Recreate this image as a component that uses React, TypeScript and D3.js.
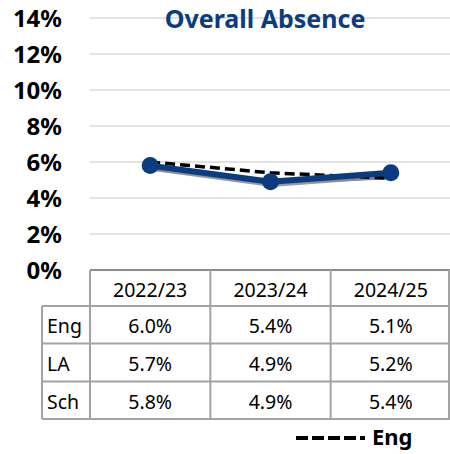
import * as d3 from "d3";
import { useEffect, useRef } from "react";

// chart values
const years = ["2022/23", "2023/24", "2024/25"];
const engValues = [6.0, 5.4, 5.1];
const laValues = [5.7, 4.9, 5.2];
const schValues = [5.8, 4.9, 5.4];
const rowLabels = ["Eng", "LA", "Sch"];
const yTicks = [0, 2, 4, 6, 8, 10, 12, 14];

const blue = "#0b3b80";
const gray = "#8a8a8a";
const border = "#a3a3a3";
const font = "'Noto Sans', 'Open Sans', sans-serif";

export default function App() {
    const svgRef = useRef<SVGSVGElement>(null);

    const width = 450,
        height = 454,
        plotLeft = 90,
        plotRight = 451,
        plotTop = 18,
        plotBottom = 270,
        rowH = [36, 37.5, 38, 37.5];

    useEffect(() => {
        const svg = d3.select(svgRef.current);
        svg.selectAll("*").remove();

        const x = d3.scaleBand().domain(years).range([plotLeft, plotRight]);
        const y = d3.scaleLinear().domain([0, 14]).range([plotBottom, plotTop]);
        const cx = (d: string) => (x(d) as number) + x.bandwidth() / 2;

        // gridlines
        svg.append("g")
            .selectAll("line")
            .data(yTicks.filter(t => t > 0))
            .enter().append("line")
            .attr("x1", plotLeft)
            .attr("x2", width)
            .attr("y1", d => y(d))
            .attr("y2", d => y(d))
            .attr("stroke", "#d9d9d9")
            .attr("stroke-width", 1.5);

        // y labels
        svg.append("g")
            .selectAll("text")
            .data(yTicks)
            .enter().append("text")
            .attr("x", 62)
            .attr("y", d => y(d) + 8.5)
            .attr("text-anchor", "end")
            .style("font-family", font)
            .style("font-size", "24px")
            .style("font-weight", "bold")
            .attr("fill", "#000")
            .text(d => `${d}%`);

        // title
        svg.append("text")
            .attr("x", 265)
            .attr("y", 27.5)
            .attr("text-anchor", "middle")
            .style("font-family", font)
            .style("font-size", "25px")
            .style("font-weight", "bold")
            .attr("fill", blue)
            .text("Overall Absence");

        const line = d3.line<number>()
            .x((d, i) => cx(years[i]))
            .y(d => y(d));

        // shadow under the blue line
        svg.append("path")
            .attr("d", line(schValues))
            .attr("transform", "translate(1.5,2.5)")
            .attr("fill", "none")
            .attr("stroke", gray)
            .attr("stroke-width", 5.5)
            .attr("opacity", 0.85);

        // LA
        svg.append("path")
            .attr("d", line(laValues))
            .attr("fill", "none")
            .attr("stroke", gray)
            .attr("stroke-width", 5.5);

        // Eng dashed
        svg.append("path")
            .attr("d", line(engValues))
            .attr("fill", "none")
            .attr("stroke", "#000")
            .attr("stroke-width", 3.5)
            .attr("stroke-dasharray", "10,5");

        // Sch
        svg.append("path")
            .attr("d", line(schValues))
            .attr("fill", "none")
            .attr("stroke", blue)
            .attr("stroke-width", 6)
            .attr("stroke-linejoin", "round");

        svg.append("g")
            .selectAll("circle")
            .data(schValues)
            .enter().append("circle")
            .attr("cx", (d, i) => cx(years[i]))
            .attr("cy", d => y(d))
            .attr("r", 8.5)
            .attr("fill", blue);

        // data table
        const rowTops = [plotBottom];
        rowH.forEach((h, i) => rowTops.push(rowTops[i] + h));
        const labelLeft = 42;
        const table = svg.append("g");
        const tableRows = [engValues, laValues, schValues];

        // horizontal borders
        rowTops.forEach((t, i) => {
            table.append("line")
                .attr("x1", i === 0 ? plotLeft : labelLeft)
                .attr("x2", width)
                .attr("y1", t)
                .attr("y2", t)
                .attr("stroke", i === 0 ? "#8c8c8c" : border)
                .attr("stroke-width", 2);
        });
        // vertical borders
        const colEdges = [plotLeft, ...years.map(d => (x(d) as number) + x.bandwidth())];
        colEdges.forEach(e => {
            table.append("line")
                .attr("x1", Math.min(e, width - 1))
                .attr("x2", Math.min(e, width - 1))
                .attr("y1", rowTops[0])
                .attr("y2", rowTops[4])
                .attr("stroke", border)
                .attr("stroke-width", 2);
        });
        table.append("line")
            .attr("x1", labelLeft)
            .attr("x2", labelLeft)
            .attr("y1", rowTops[1])
            .attr("y2", rowTops[4])
            .attr("stroke", border)
            .attr("stroke-width", 2);

        // header
        table.selectAll(".hdr")
            .data(years)
            .enter().append("text")
            .attr("class", "hdr")
            .attr("x", d => cx(d))
            .attr("y", rowTops[0] + 26.5)
            .attr("text-anchor", "middle")
            .style("font-family", font)
            .style("font-size", "19.5px")
            .text(d => d);

        tableRows.forEach((vals, r) => {
            table.append("text")
                .attr("x", 47)
                .attr("y", rowTops[r + 1] + 27)
                .style("font-family", font)
                .style("font-size", "19.5px")
                .text(rowLabels[r]);
            table.selectAll(`.row${r}`)
                .data(vals)
                .enter().append("text")
                .attr("class", `row${r}`)
                .attr("x", (d, i) => cx(years[i]))
                .attr("y", rowTops[r + 1] + 27)
                .attr("text-anchor", "middle")
                .style("font-family", font)
                .style("font-size", "19.5px")
                .text(d => `${d.toFixed(1)}%`);
        });

        // legend
        svg.append("line")
            .attr("x1", 296)
            .attr("x2", 365)
            .attr("y1", 438)
            .attr("y2", 438)
            .attr("stroke", "#000")
            .attr("stroke-width", 4)
            .attr("stroke-dasharray", "12,4");
        svg.append("text")
            .attr("x", 372)
            .attr("y", 445)
            .style("font-family", font)
            .style("font-size", "22px")
            .style("font-weight", "bold")
            .text("Eng");
    }, []);

    return (
        <div style={{ position: "absolute", left: 0, top: 0 }}>
            <svg ref={svgRef} width={width} height={height} style={{ display: "block", background: "#fff" }} />
        </div>
    );
}
